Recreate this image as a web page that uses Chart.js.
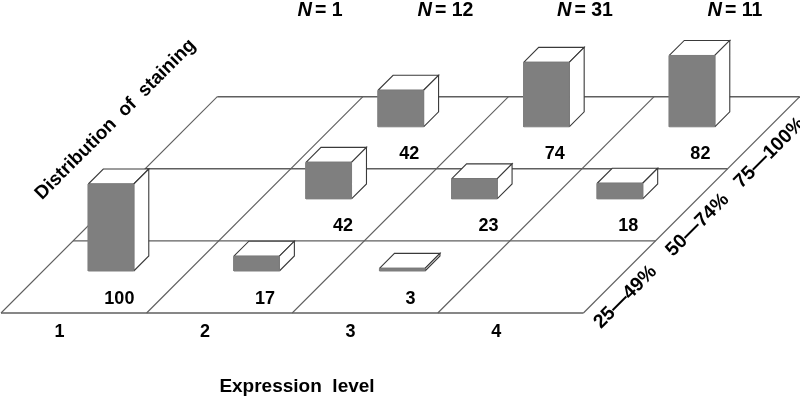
<!DOCTYPE html>
<html>
<head>
<meta charset="utf-8">
<style>html,body{margin:0;padding:0;background:#fff}canvas{display:block}</style>
<script src="https://cdn.jsdelivr.net/npm/chart.js@4/dist/chart.umd.min.js"></script>
</head>
<body>
<canvas id="c" width="800" height="401"></canvas>
<script>
// ---- data ----
const expressionLevels = ['1', '2', '3', '4'];
const stainingBins = ['25\u201449%', '50\u201474%', '75\u2014100%'];
const nCounts = [1, 12, 31, 11];
const row25to49 = [100, 17, 3, null];
const row50to74 = [null, 42, 23, 18];
const row75to100 = [null, 42, 74, 82];
const rows = [row25to49, row50to74, row75to100];

// ---- projection constants (oblique floor) ----
const COL_PX = 145.6, ROW_PX = 72.1, LEFT_PX = 1, FLOOR_PX = 313;
const SKEW = ROW_PX / COL_PX;          // col units shifted per row
const BAR_COL = 0.311, BAR_ROW = 0.5825, BAR_W = 0.3125, BAR_D = 0.208;
const VALUE_H = 0.87 / ROW_PX;         // rows of height per value unit
const P = (col, row, h = 0) => ({ x: col + row * SKEW, y: row + h });

const LINE = '#5f5f5f', EDGE = '#3a3a3a', FRONT = '#7f7f7f';
const FONT = '"Liberation Sans", Arial, sans-serif';

const shapes = [];
const addLine = (pts, width) => shapes.push({
  data: pts, showLine: true, fill: false, borderColor: LINE, borderWidth: width,
  pointRadius: 0, clip: false, tension: 0
});
const addFace = (pts, color, edge, width) => shapes.push({
  data: [...pts, pts[0]], showLine: true, fill: 'shape', backgroundColor: color,
  borderColor: edge, borderWidth: width, pointRadius: 0, clip: false, tension: 0,
  borderJoinStyle: 'miter'
});

// floor grid
for (let r = 0; r <= stainingBins.length; r++) addLine([P(0, r), P(expressionLevels.length, r)], 1.4);
for (let c = 0; c <= expressionLevels.length; c++) addLine([P(c, 0), P(c, stainingBins.length)], 1.1);

// bars, back row first
for (let r = rows.length - 1; r >= 0; r--) {
  rows[r].forEach((v, c) => {
    if (v === null) return;
    const x0 = c + BAR_COL, x1 = x0 + BAR_W, y0 = r + BAR_ROW, y1 = y0 + BAR_D, h = v * VALUE_H;
    addFace([P(x0, y0, h), P(x1, y0, h), P(x1, y1, h), P(x0, y1, h)], '#ffffff', EDGE, 1.1);
    addFace([P(x1, y0), P(x1, y1), P(x1, y1, h), P(x1, y0, h)], '#ffffff', EDGE, 1.1);
    addFace([P(x0, y0), P(x1, y0), P(x1, y0, h), P(x0, y0, h)], FRONT, FRONT, 1);
  });
}
shapes.forEach((s, i) => { s.order = shapes.length - i; });

const textPlugin = {
  id: 'chartText',
  afterDatasetsDraw(chart) {
    const { ctx, scales: { x, y } } = chart;
    const put = (text, px, py, size, angle = 0, font = 'bold') => {
      ctx.save();
      ctx.translate(px, py);
      ctx.rotate(angle);
      ctx.font = `${font} ${size}px ${FONT}`;
      ctx.fillStyle = '#000';
      ctx.textAlign = 'center';
      ctx.textBaseline = 'middle';
      ctx.fillText(text, 0, 0);
      ctx.restore();
    };
    const at = (col, row) => { const p = P(col, row); return [x.getPixelForValue(p.x), y.getPixelForValue(p.y)]; };

    // value labels on the floor
    rows.forEach((vals, r) => vals.forEach((v, c) => {
      if (v === null) return;
      const nudge = (r === 1 && c < 3) ? 0.04 : 0;
      const [px, py] = at(c + 0.714 + nudge, r + 0.2);
      put(String(v), px, py, 18);
    }));
    // expression level ticks
    expressionLevels.forEach((t, c) => {
      const [px, py] = at(c + 0.535, -0.27);
      put(t, px, py, 18);
    });
    // bins along the right edge
    stainingBins.forEach((t, r) => {
      const [px, py] = at(4.18, r + 0.22);
      put(t, px, py, 19.5, -Math.PI / 4);
    });
    // N labels
    const nY = y.getPixelForValue(4.2);
    const nX = [320, 445.5, 585, 735];
    nCounts.forEach((n, i) => {
      ctx.save();
      ctx.font = `bold 19.5px ${FONT}`;
      const rest = '= ' + n;
      const w2 = ctx.measureText(rest).width;
      ctx.font = `italic bold 20px ${FONT}`;
      const w1 = ctx.measureText('N').width;
      const sx = nX[i] - (w1 + 3 + w2) / 2;
      ctx.fillStyle = '#000';
      ctx.textBaseline = 'middle';
      ctx.fillText('N', sx, nY);
      ctx.font = `bold 19.5px ${FONT}`;
      ctx.fillText(rest, sx + w1 + 3, nY);
      ctx.restore();
    });
    // axis titles
    put('Expression  level', 297, 386.5, 19);
    put('Distribution  of  staining', 115.5, 119.5, 19, -Math.PI / 4);
  }
};

new Chart(document.getElementById('c'), {
  type: 'scatter',
  data: { datasets: shapes },
  options: {
    responsive: false,
    animation: false,
    events: [],
    layout: { padding: 0 },
    plugins: { legend: { display: false }, tooltip: { enabled: false } },
    scales: {
      x: { type: 'linear', display: false, min: -LEFT_PX / COL_PX, max: (800 - LEFT_PX) / COL_PX },
      y: { type: 'linear', display: false, min: (FLOOR_PX - 401) / ROW_PX, max: FLOOR_PX / ROW_PX }
    }
  },
  plugins: [textPlugin]
});
</script>
</body>
</html>
